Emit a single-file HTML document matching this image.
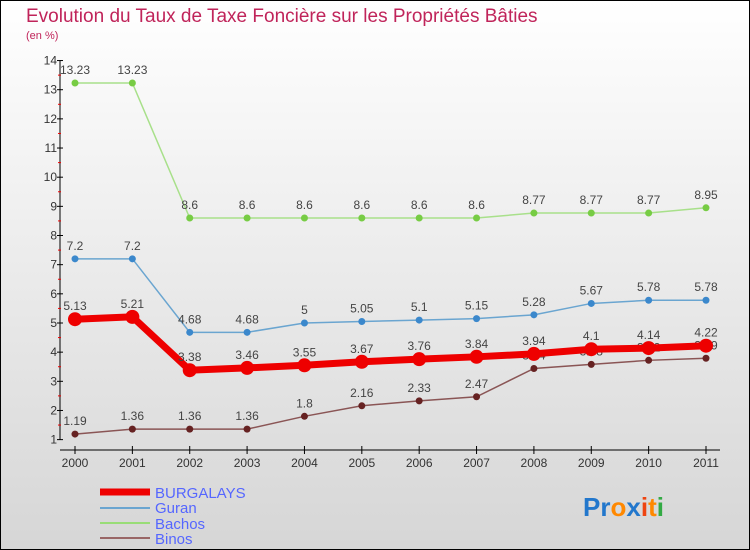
<!DOCTYPE html>
<html><head><meta charset="utf-8"><style>
body{margin:0}
#c{width:750px;height:550px;position:relative;box-sizing:border-box;border:1px solid #000;background:linear-gradient(#ffffff,#d6d6d6);font-family:"Liberation Sans",sans-serif;overflow:hidden}
</style></head><body>
<div id="c">
<svg width="750" height="550" style="position:absolute;left:-1px;top:-1px" id="s">
<text x="26" y="22" font-size="19" fill="#c0245a">Evolution du Taux de Taxe Foncière sur les Propriétés Bâties</text>
<text x="26" y="39" font-size="11" fill="#c0245a">(en %)</text>
<g id="axes"></g><g id="series"></g>
<g>
<line x1="100" y1="492" x2="150" y2="492" stroke="#ee0000" stroke-width="7"/>
<text x="155" y="498" font-size="15" fill="#5566ff">BURGALAYS</text>
<line x1="100" y1="508" x2="150" y2="508" stroke="#6aa5d0" stroke-width="2"/>
<text x="155" y="513" font-size="15" fill="#5566ff">Guran</text>
<line x1="100" y1="523" x2="150" y2="523" stroke="#99dd77" stroke-width="2"/>
<text x="155" y="529" font-size="15" fill="#5566ff">Bachos</text>
<line x1="100" y1="538" x2="150" y2="538" stroke="#996666" stroke-width="2"/>
<text x="155" y="544" font-size="15" fill="#5566ff">Binos</text>
</g>
<text x="583" y="516" font-size="26" font-weight="bold"><tspan fill="#2277cc">Pr</tspan><tspan fill="#ff8800">o</tspan><tspan fill="#2277cc">x</tspan><tspan fill="#ee4411">i</tspan><tspan fill="#ff8800">t</tspan><tspan fill="#33aa44">i</tspan></text>
</svg>
</div>
<script>
const years=["2000","2001","2002","2003","2004","2005","2006","2007","2008","2009","2010","2011"];
const yTicks=[1,2,3,4,5,6,7,8,9,10,11,12,13,14];
const burgalays=[5.13,5.21,3.38,3.46,3.55,3.67,3.76,3.84,3.94,4.1,4.14,4.22];
const guran=[7.2,7.2,4.68,4.68,5,5.05,5.1,5.15,5.28,5.67,5.78,5.78];
const bachos=[13.23,13.23,8.6,8.6,8.6,8.6,8.6,8.6,8.77,8.77,8.77,8.95];
const binos=[1.19,1.36,1.36,1.36,1.8,2.16,2.33,2.47,3.44,3.58,3.72,3.79];
const NS="http://www.w3.org/2000/svg";
const xS=i=>75+i*(631/11);
const yS=v=>83+(13.23-v)*29.16;
function mk(t,a,p){const e=document.createElementNS(NS,t);for(const k in a)e.setAttribute(k,a[k]);p.appendChild(e);return e;}
const ax=document.getElementById('axes');
let l=mk('line',{x1:60,y1:yS(14),x2:60,y2:yS(1),stroke:'#000'},ax);


l=mk('line',{x1:60,y1:450,x2:720,y2:450,stroke:'#000'},ax);


yTicks.forEach(v=>{
  mk('line',{x1:57,y1:yS(v),x2:63,y2:yS(v),stroke:'#000'},ax);
  if(v<14)mk('line',{x1:58,y1:yS(v+0.5),x2:61,y2:yS(v+0.5),stroke:'#e00'},ax);
  const t=mk('text',{x:57,y:yS(v)+4,'font-size':12,fill:'#333','text-anchor':'end'},ax);t.textContent=v;
  
  
});
years.forEach((y,i)=>{
  mk('line',{x1:xS(i),y1:446,x2:xS(i),y2:454,stroke:'#000'},ax);
  const t=mk('text',{x:xS(i),y:467,'font-size':12,fill:'#333','text-anchor':'middle'},ax);t.textContent=y;
  
  
});
const sg=document.getElementById('series');
function draw(name,data,color,w,r,dot,lab){
  const g=mk('g',{},sg);
  
  
  const p=mk('polyline',{points:data.map((v,i)=>xS(i)+','+yS(v)).join(' '),fill:'none',stroke:color,'stroke-width':w},g);
  
  
  data.forEach((v,i)=>{
    const c=mk('circle',{cx:xS(i),cy:yS(v),r:r,fill:dot},g);
    
    
    const t=mk('text',{x:xS(i),y:yS(v)-9,'font-size':12,fill:'#444','text-anchor':'middle'},g);t.textContent=v;
    
    
  });
}
draw('bachos',bachos,'#a8e08a',1.5,3.5,'#77cc44');
draw('guran',guran,'#6aa5d0',1.5,3.5,'#3b88cc');
draw('binos',binos,'#8a5555',1.5,3.5,'#662222');
draw('burgalays',burgalays,'#ee0000',7,7,'#ee0000');
</script>
</body></html>
